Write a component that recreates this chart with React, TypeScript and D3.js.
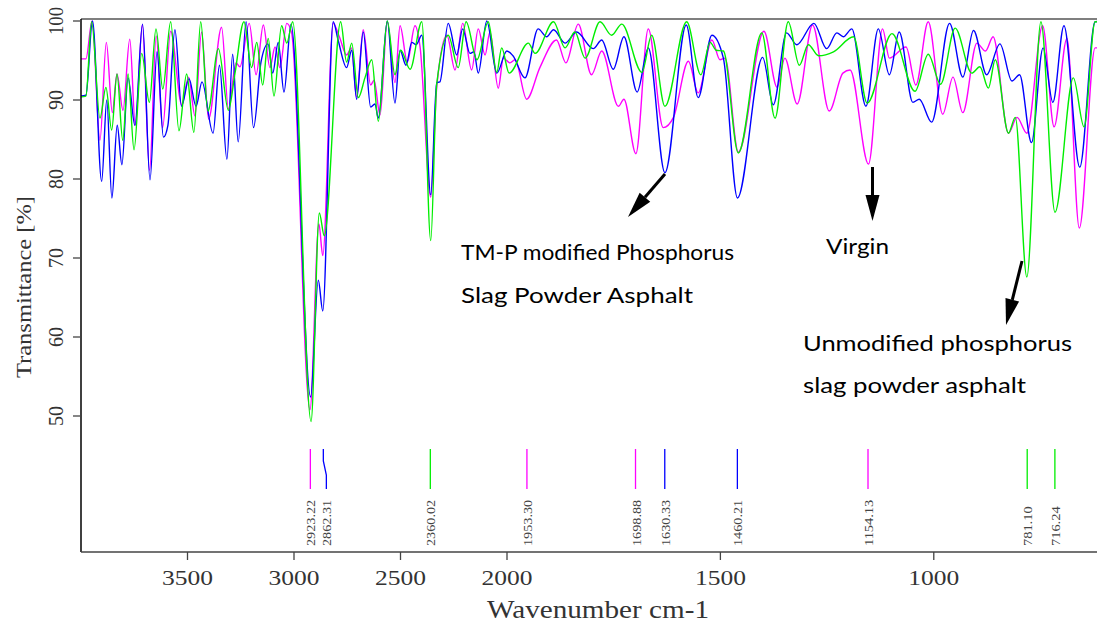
import React from "react";
import * as d3 from "d3";

// ---- data (wavenumber cm-1, transmittance %) ----
const xTicks = [3500, 3000, 2500, 2000, 1500, 1000];
const yTicks = [50, 60, 70, 80, 90, 100];

// Virgin asphalt (magenta)
const virgin: [number, number][] = [
  [4000, 95.2], [3977, 95.2], [3948, 100], [3911, 84.9], [3881, 97.3], [3853, 88.4], [3831, 93.3],
  [3803, 88.7], [3771, 97.7], [3745, 86.8], [3712, 99.5], [3678, 81.1], [3647, 98.1], [3617, 86.5],
  [3579, 98.7], [3527, 89.4], [3495, 92.9], [3465, 88.0], [3434, 98.6], [3401, 87.6], [3340, 99.2],
  [3308, 88.9], [3272, 94.7], [3254, 94.2], [3210, 99.7], [3178, 93.2], [3144, 99.5], [3113, 94.1],
  [3089, 96.7], [3066, 94.1], [3034, 99.7], [3011, 98.5], [2925, 50.8], [2883, 74.3], [2865, 70.3],
  [2816, 99.7], [2787, 98.0], [2753, 95.7], [2730, 96.6], [2706, 90.4], [2675, 98.9], [2640, 91.9],
  [2624, 92.5], [2596, 88.1], [2562, 99.9], [2526, 92.2], [2502, 99.4], [2468, 94.8], [2432, 99.4],
  [2408, 96.7], [2358, 77.7], [2330, 91.6], [2282, 98.2], [2244, 93.8], [2208, 99.7], [2166, 93.8],
  [2135, 99.0], [2103, 95.7], [2080, 98.6], [2041, 91.5], [2017, 95.3], [1993, 94.7], [1981, 95.1],
  [1954, 90.1], [1923, 94.1], [1884, 97.6], [1862, 94.7], [1833, 99.6], [1802, 93.2], [1778, 96.2],
  [1739, 89.2], [1726, 90.1], [1698, 83.2], [1669, 99.0], [1634, 86.5], [1610, 87.8], [1575, 94.9],
  [1552, 90.9], [1520, 97.6], [1501, 95.1], [1489, 95.3], [1458, 83.4], [1398, 98.7], [1367, 91.6],
  [1349, 95.3], [1320, 89.5], [1284, 99.5], [1245, 88.6], [1213, 93.4], [1196, 93.8], [1153, 81.9],
  [1120, 99.0], [1104, 95.3], [1065, 96.7], [1042, 91.9], [1013, 99.9], [979, 88.2], [955, 92.9],
  [932, 88.4], [899, 97.2], [879, 96.2], [861, 98.0], [825, 85.8], [805, 87.8], [782, 85.8],
  [745, 99.4], [718, 86.6], [688, 97.8], [659, 73.8], [622, 96.6], [600, 96.6],
];

// TM-P modified phosphorus slag powder asphalt (blue)
const tmpModified: [number, number][] = [
  [4000, 90.5], [3977, 90.6], [3946, 100], [3903, 79.7], [3879, 90.0], [3855, 77.6], [3830, 86.8],
  [3808, 81.8], [3779, 92.8], [3747, 86.8], [3711, 99.6], [3676, 79.9], [3643, 96.1], [3613, 85.3],
  [3592, 86.8], [3559, 98.9], [3528, 89.2], [3493, 92.7], [3460, 89.2], [3432, 92.3], [3380, 85.8],
  [3350, 94.4], [3315, 82.5], [3288, 95.8], [3262, 84.7], [3225, 99.9], [3190, 86.5], [3155, 94.8],
  [3122, 97.1], [3100, 93.4], [3074, 97.3], [3047, 91.0], [3014, 99.6], [2922, 52.4], [2886, 67.2],
  [2865, 63.3], [2816, 99.9], [2793, 97.6], [2753, 94.1], [2729, 96.3], [2706, 90.1], [2675, 98.6],
  [2640, 89.1], [2620, 89.5], [2604, 87.7], [2562, 100], [2526, 89.6], [2502, 96.3], [2474, 94.4],
  [2447, 97.3], [2427, 97.0], [2400, 98.2], [2358, 78.0], [2330, 92.2], [2315, 92.3], [2276, 99.7],
  [2236, 95.7], [2208, 99.0], [2174, 95.9], [2155, 96.1], [2135, 93.4], [2095, 100], [2048, 93.4],
  [2001, 96.2], [1986, 95.6], [1958, 92.8], [1927, 99.0], [1907, 98.0], [1891, 98.9], [1864, 97.2],
  [1837, 98.6], [1798, 96.5], [1778, 97.6], [1751, 93.9], [1726, 98.0], [1695, 91.0], [1669, 96.6],
  [1630, 80.8], [1580, 99.5], [1552, 90.3], [1520, 98.2], [1493, 95.3], [1460, 77.6], [1401, 95.4],
  [1376, 89.4], [1345, 98.5], [1321, 97.0], [1281, 99.7], [1251, 96.5], [1227, 98.5], [1212, 98.0],
  [1192, 99.0], [1159, 89.2], [1130, 99.0], [1104, 93.2], [1081, 98.6], [1049, 89.7], [1034, 90.1],
  [1005, 87.2], [963, 99.7], [932, 92.9], [907, 98.8], [876, 93.2], [845, 97.1], [817, 92.4],
  [799, 93.2], [771, 84.6], [744, 96.6], [721, 89.7], [695, 99.4], [658, 81.5], [622, 99.9], [600, 100],
];

// Unmodified phosphorus slag powder asphalt (green)
const unmodified: [number, number][] = [
  [4000, 90.4], [3977, 90.5], [3950, 99.9], [3911, 87.7], [3883, 91.6], [3856, 86.2], [3831, 93.3],
  [3804, 84.9], [3779, 93.3], [3751, 83.7], [3715, 95.9], [3679, 89.7], [3648, 99.0], [3616, 91.4],
  [3579, 99.9], [3540, 86.1], [3504, 93.3], [3470, 85.9], [3438, 99.9], [3404, 88.6], [3355, 96.5],
  [3308, 88.7], [3277, 93.4], [3235, 99.9], [3199, 94.1], [3175, 97.3], [3147, 91.9], [3121, 97.8],
  [3094, 90.5], [3058, 99.4], [3034, 97.2], [3006, 99.9], [2920, 49.3], [2881, 75.7], [2858, 72.8],
  [2781, 99.9], [2753, 94.8], [2729, 97.2], [2698, 90.3], [2667, 92.8], [2635, 95.1], [2604, 87.3],
  [2562, 100], [2526, 93.2], [2499, 96.3], [2455, 93.9], [2400, 99.9], [2358, 72.2], [2330, 92.0],
  [2276, 98.2], [2229, 94.1], [2192, 99.9], [2141, 95.1], [2088, 99.9], [2048, 93.5], [2025, 96.6],
  [1995, 93.4], [1950, 97.2], [1934, 95.9], [1891, 99.9], [1864, 96.6], [1841, 98.6], [1817, 95.3],
  [1782, 99.9], [1755, 98.2], [1731, 99.6], [1684, 93.5], [1661, 98.2], [1630, 89.2], [1579, 99.9],
  [1546, 93.2], [1524, 97.3], [1510, 96.3], [1493, 96.2], [1458, 83.3], [1403, 98.5], [1372, 87.7],
  [1341, 99.9], [1315, 94.4], [1294, 97.0], [1270, 95.6], [1235, 96.1], [1188, 98.0], [1156, 89.6],
  [1098, 98.4], [1044, 91.1], [1013, 95.8], [984, 92.0], [950, 99.1], [911, 93.4], [892, 94.2],
  [872, 91.5], [856, 95.1], [825, 85.8], [809, 87.8], [782, 67.6], [749, 99.9], [716, 75.8],
  [673, 92.8], [648, 86.6], [622, 99.9], [600, 99.9],
];

const peakWn = [2923.22, 2862.31, 2360.02, 1953.3, 1698.88, 1630.33, 1460.21, 1154.13, 781.1, 716.24];
const peakLabels = ["2923.22", "2862.31", "2360.02", "1953.30", "1698.88", "1630.33", "1460.21", "1154.13", "781.10", "716.24"];
const peakSeries = ["virgin", "tmp", "unmod", "virgin", "virgin", "tmp", "tmp", "virgin", "unmod", "unmod"];

const colors: Record<string, string> = { virgin: "#ff00ff", tmp: "#0000ff", unmod: "#00ee00" };

const W = 1097;
const H = 625;
const left = 81;
const top = 19;
const bottom = 552;

export default function App() {
  const x = d3.scaleLinear().domain([4000, 2000, 600]).range([81, 507, 1104.5]);
  const y = d3.scaleLinear().domain([50, 100]).range([416, 21]);
  const line = d3
    .line<[number, number]>()
    .x((d) => x(d[0]))
    .y((d) => y(d[1]))
    .curve(d3.curveMonotoneX);

  // label positions with collision offset
  const labelX: number[] = [];
  peakWn.forEach((w, i) => {
    const px = x(w);
    labelX.push(i > 0 ? Math.max(px, labelX[i - 1] + 16) : px);
  });

  const serif = "'Liberation Serif', 'DejaVu Serif', serif";
  const sans = "Lato, 'Open Sans', 'Noto Sans', sans-serif";

  const arrow = (x1: number, y1: number, x2: number, y2: number, key: string) => {
    const dx = x2 - x1;
    const dy = y2 - y1;
    const len = Math.hypot(dx, dy);
    const ux = dx / len;
    const uy = dy / len;
    const hl = 26;
    const hw = 7;
    const bx = x2 - ux * hl;
    const by = y2 - uy * hl;
    const pts = [
      [x2, y2],
      [bx - uy * hw, by + ux * hw],
      [bx + uy * hw, by - ux * hw],
    ];
    return (
      <g key={key}>
        <line x1={x1} y1={y1} x2={bx} y2={by} stroke="#000" strokeWidth={3} />
        <polygon points={pts.map((p) => p.join(",")).join(" ")} fill="#000" />
      </g>
    );
  };

  return (
    <svg width={W} height={H} style={{ position: "absolute", left: 0, top: 0, background: "#fff" }}>
      <defs>
        <clipPath id="plot">
          <rect x={left} y={0} width={W - left} height={bottom} />
        </clipPath>
      </defs>
      <rect x={0} y={0} width={W} height={H} fill="#fff" />

      {/* spectra */}
      <g clipPath="url(#plot)" fill="none" strokeWidth={1.4}>
        <path d={line(virgin) || ""} stroke={colors.virgin} />
        <path d={line(tmpModified) || ""} stroke={colors.tmp} />
        <path d={line(unmodified) || ""} stroke={colors.unmod} />
      </g>

      {/* frame */}
      <line x1={left} y1={top} x2={W} y2={top} stroke="#555" strokeWidth={1.5} />
      <line x1={left} y1={top} x2={left} y2={bottom} stroke="#000" strokeWidth={1.5} />
      <line x1={left} y1={bottom} x2={W} y2={bottom} stroke="#444" strokeWidth={1.3} />

      {/* y axis */}
      {yTicks.map((t) => (
        <g key={"yt" + t}>
          <line x1={left - 8} x2={left} y1={y(t)} y2={y(t)} stroke="#444" strokeWidth={1.3} />
          <text
            transform={`translate(63,${y(t)}) rotate(-90)`}
            textAnchor="middle"
            fontFamily={serif}
            fontSize={22}
            fill="#333"
            textLength={t === 100 ? 28 : 20}
            lengthAdjust="spacingAndGlyphs"
          >
            {t}
          </text>
        </g>
      ))}
      <text
        transform="translate(31,287) rotate(-90)"
        textAnchor="middle"
        fontFamily={serif}
        fontSize={20}
        fill="#333"
        textLength={182}
        lengthAdjust="spacingAndGlyphs"
      >
        Transmittance [%]
      </text>

      {/* x axis */}
      {xTicks.map((t) => (
        <g key={"xt" + t}>
          <line x1={x(t)} x2={x(t)} y1={bottom} y2={bottom + 8} stroke="#444" strokeWidth={1.3} />
          <text
            x={x(t)}
            y={585}
            textAnchor="middle"
            fontFamily={serif}
            fontSize={22}
            fill="#333"
            textLength={51}
            lengthAdjust="spacingAndGlyphs"
          >
            {t}
          </text>
        </g>
      ))}
      <text
        x={598}
        y={618}
        textAnchor="middle"
        fontFamily={serif}
        fontSize={25}
        fill="#333"
        textLength={222}
        lengthAdjust="spacingAndGlyphs"
      >
        Wavenumber cm-1
      </text>

      {/* peak markers */}
      {peakWn.map((w, i) => {
        const px = x(w);
        const lx = labelX[i];
        const c = colors[peakSeries[i]];
        const d = Math.abs(lx - px) < 0.5 ? `M${px},449V489` : `M${px},449V461L${lx},475V489`;
        return (
          <g key={"pk" + i}>
            <path d={d} stroke={c} strokeWidth={1.3} fill="none" />
            <text
              transform={`translate(${lx + 5},546) rotate(-90)`}
              fontFamily={serif}
              fontSize={13}
              fill="#444"
              textLength={peakLabels[i].length * 6.6}
              lengthAdjust="spacingAndGlyphs"
            >
              {peakLabels[i]}
            </text>
          </g>
        );
      })}

      {/* annotations */}
      {arrow(665, 174, 628, 217, "a1")}
      {arrow(872.5, 167, 872.5, 221, "a2")}
      {arrow(1022, 261, 1006, 325, "a3")}
      <g fontFamily={sans} fontSize={22} fill="#000">
        <text x={461} y={260} textLength={273} lengthAdjust="spacingAndGlyphs">TM-P modified Phosphorus</text>
        <text x={461} y={303} textLength={232} lengthAdjust="spacingAndGlyphs">Slag Powder Asphalt</text>
        <text x={826} y={254} textLength={63} lengthAdjust="spacingAndGlyphs">Virgin</text>
        <text x={803} y={351} textLength={269} lengthAdjust="spacingAndGlyphs">Unmodified phosphorus</text>
        <text x={803} y={393} textLength={223} lengthAdjust="spacingAndGlyphs">slag powder asphalt</text>
      </g>
    </svg>
  );
}
